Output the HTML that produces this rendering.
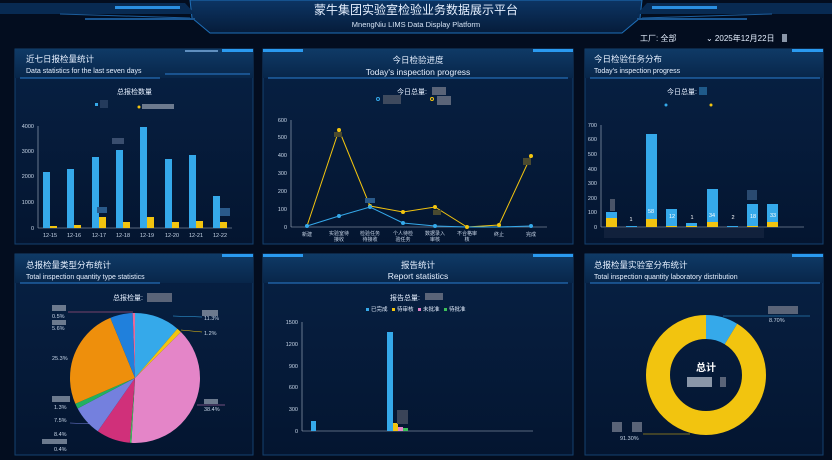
<!DOCTYPE html>
<html><head><meta charset="utf-8"><style>
html,body{margin:0;padding:0;background:#030d1f;}
svg{display:block;font-family:"Liberation Sans","Noto Sans CJK SC",sans-serif;}
</style></head><body>
<svg width="832" height="460" viewBox="0 0 832 460" xmlns="http://www.w3.org/2000/svg">
<defs>
<linearGradient id="hd" x1="0" y1="0" x2="0" y2="1"><stop offset="0" stop-color="#0f3a66"/><stop offset="1" stop-color="#08264a"/></linearGradient>
<linearGradient id="pn" x1="0" y1="0" x2="0" y2="1"><stop offset="0" stop-color="#072144"/><stop offset="1" stop-color="#041530"/></linearGradient>
<linearGradient id="tp" x1="0" y1="0" x2="0" y2="1"><stop offset="0" stop-color="#0c3564"/><stop offset="1" stop-color="#061c3a"/></linearGradient>
</defs>
<rect width="832" height="460" fill="#030d1f"/>
<!-- header -->
<polygon points="190,0 642,0 640,18 622,33 210,33 192,18" fill="url(#tp)" stroke="#1e6fb8" stroke-width="1"/>
<polygon points="0,3 185,3 195,14 0,14" fill="#082a52"/>
<polygon points="832,3 647,3 637,14 832,14" fill="#082a52"/>
<rect x="115" y="6" width="65" height="3" fill="#2a8ee0"/>
<rect x="652" y="6" width="65" height="3" fill="#2a8ee0"/>
<line x1="60" y1="14" x2="190" y2="18" stroke="#1c5d9c"/>
<line x1="642" y1="18" x2="772" y2="14" stroke="#1c5d9c"/>
<rect x="85" y="18" width="110" height="2" fill="#1a5590"/>
<rect x="637" y="18" width="110" height="2" fill="#1a5590"/>
<text x="416" y="14" fill="#e6f0ff" font-size="12" text-anchor="middle">蒙牛集团实验室检验业务数据展示平台</text>
<text x="416" y="27" fill="#d6e4f5" font-size="7.5" text-anchor="middle">MnengNiu LIMS Data Display Platform</text>
<text x="640" y="41" fill="#e6f0ff" font-size="8">工厂: 全部</text>
<text x="706" y="41" fill="#e6f0ff" font-size="8">⌄ 2025年12月22日</text>
<rect x="782" y="34" width="5" height="8" fill="#8a96a8"/>

<!-- panel function: drawn manually -->
<!-- Panel TL -->
<g>
<rect x="15" y="49" width="238" height="195" fill="url(#pn)" stroke="#14416f"/>
<rect x="15" y="49" width="238" height="29" fill="url(#hd)"/>
<rect x="222" y="49" width="31" height="3" fill="#2a9af0"/>
<rect x="185" y="50" width="33" height="2" fill="#5f8fbf"/>
<line x1="20" y1="78" x2="160" y2="78" stroke="#2a7dd0"/>
<line x1="165" y1="74" x2="250" y2="74" stroke="#2a7dd0"/>
<text x="26" y="62" fill="#e6f0ff" font-size="8.5">近七日报检量统计</text>
<text x="26" y="73" fill="#e6f0ff" font-size="7">Data statistics for the last seven days</text>
<text x="117" y="94" fill="#e6f0ff" font-size="7">总报检数量</text>
<rect x="95" y="103" width="3" height="3" fill="#35a9ea"/><rect x="100" y="100" width="8" height="8" fill="#243b5c"/>
<circle cx="139" cy="107" r="1.5" fill="#f2c40f"/><rect x="142" y="104" width="32" height="5" fill="#6c7a8e"/>
</g>
<!-- Panel TM -->
<g>
<rect x="263" y="49" width="310" height="195" fill="url(#pn)" stroke="#14416f"/>
<rect x="263" y="49" width="310" height="29" fill="url(#hd)"/>
<rect x="263" y="49" width="40" height="3" fill="#2a9af0"/><rect x="533" y="49" width="40" height="3" fill="#2a9af0"/>
<line x1="268" y1="78" x2="568" y2="78" stroke="#2a7dd0"/>
<text x="418" y="63" fill="#e6f0ff" font-size="8.5" text-anchor="middle">今日检验进度</text>
<text x="418" y="75" fill="#e6f0ff" font-size="8.5" text-anchor="middle">Today's inspection progress</text>
<text x="397" y="94" fill="#e6f0ff" font-size="7">今日总量:</text><rect x="432" y="87" width="14" height="8" fill="#5a6478"/>
<circle cx="378" cy="99" r="1.5" fill="none" stroke="#35a9ea"/><rect x="383" y="95" width="18" height="9" fill="#3e4a5e"/>
<circle cx="432" cy="99" r="1.5" fill="none" stroke="#f2c40f"/><rect x="437" y="96" width="14" height="9" fill="#5a6478"/>
</g>
<!-- Panel TR -->
<g>
<rect x="585" y="49" width="238" height="195" fill="url(#pn)" stroke="#14416f"/>
<rect x="585" y="49" width="238" height="29" fill="url(#hd)"/>
<rect x="792" y="49" width="31" height="3" fill="#2a9af0"/>
<line x1="590" y1="78" x2="820" y2="78" stroke="#2a7dd0"/>
<text x="594" y="62" fill="#e6f0ff" font-size="8.5">今日检验任务分布</text>
<text x="594" y="73" fill="#e6f0ff" font-size="7">Today's inspection progress</text>
<text x="667" y="94" fill="#e6f0ff" font-size="7">今日总量:</text><rect x="699" y="87" width="8" height="8" fill="#1f5a8a"/>
<circle cx="666" cy="105" r="1.5" fill="#35a9ea"/><circle cx="711" cy="105" r="1.5" fill="#f2c40f"/>
</g>
<!-- Panel BL -->
<g>
<rect x="15" y="254" width="238" height="201" fill="url(#pn)" stroke="#14416f"/>
<rect x="15" y="254" width="238" height="29" fill="url(#hd)"/>
<rect x="222" y="254" width="31" height="3" fill="#2a9af0"/>
<line x1="20" y1="283" x2="160" y2="283" stroke="#2a7dd0"/>
<text x="26" y="268" fill="#e6f0ff" font-size="8.5">总报检量类型分布统计</text>
<text x="26" y="279" fill="#e6f0ff" font-size="7">Total inspection quantity type statistics</text>
</g>
<!-- Panel BM -->
<g>
<rect x="263" y="254" width="310" height="201" fill="url(#pn)" stroke="#14416f"/>
<rect x="263" y="254" width="310" height="29" fill="url(#hd)"/>
<rect x="263" y="254" width="40" height="3" fill="#2a9af0"/><rect x="533" y="254" width="40" height="3" fill="#2a9af0"/>
<line x1="268" y1="283" x2="568" y2="283" stroke="#2a7dd0"/>
<text x="418" y="268" fill="#e6f0ff" font-size="8.5" text-anchor="middle">报告统计</text>
<text x="418" y="279" fill="#e6f0ff" font-size="8.5" text-anchor="middle">Report statistics</text>
<text x="390" y="300" fill="#e6f0ff" font-size="7">报告总量:</text><rect x="425" y="293" width="18" height="7" fill="#5a6478"/>
<g font-size="5.5" fill="#e6f0ff">
<rect x="366" y="308" width="3" height="3" fill="#35a9ea"/><text x="371" y="311">已完成</text>
<rect x="392" y="308" width="3" height="3" fill="#f2c40f"/><text x="397" y="311">待审核</text>
<rect x="418" y="308" width="3" height="3" fill="#e07ec5"/><text x="423" y="311">未批准</text>
<rect x="444" y="308" width="3" height="3" fill="#3cc05a"/><text x="449" y="311">待批准</text>
</g>
</g>
<!-- Panel BR -->
<g>
<rect x="585" y="254" width="238" height="201" fill="url(#pn)" stroke="#14416f"/>
<rect x="585" y="254" width="238" height="29" fill="url(#hd)"/>
<rect x="792" y="254" width="31" height="3" fill="#2a9af0"/>
<line x1="590" y1="283" x2="820" y2="283" stroke="#2a7dd0"/>
<text x="594" y="268" fill="#e6f0ff" font-size="8.5">总报检量实验室分布统计</text>
<text x="594" y="279" fill="#e6f0ff" font-size="7">Total inspection quantity laboratory distribution</text>
</g>

<!-- TL chart -->
<g font-size="5.5" fill="#c8d6e8">
<line x1="38" y1="126" x2="38" y2="228" stroke="#aab8c8" stroke-width="0.6"/>
<line x1="38" y1="228" x2="232" y2="228" stroke="#aab8c8" stroke-width="0.6"/>
<text x="34" y="230" text-anchor="end">0</text>
<text x="34" y="204" text-anchor="end">1000</text>
<text x="34" y="178" text-anchor="end">2000</text>
<text x="34" y="153" text-anchor="end">3000</text>
<text x="34" y="128" text-anchor="end">4000</text>
</g>
<g fill="#35a9ea">
<rect x="43" y="172" width="7" height="56"/>
<rect x="67" y="169" width="7" height="59"/>
<rect x="92" y="157" width="7" height="71"/>
<rect x="116" y="150" width="7" height="78"/>
<rect x="140" y="127" width="7" height="101"/>
<rect x="165" y="159" width="7" height="69"/>
<rect x="189" y="155" width="7" height="73"/>
<rect x="213" y="196" width="7" height="32"/>
</g>
<g fill="#f2c40f">
<rect x="50" y="226" width="7" height="2"/>
<rect x="74" y="225" width="7" height="3"/>
<rect x="99" y="217" width="7" height="11"/>
<rect x="123" y="222" width="7" height="6"/>
<rect x="147" y="217" width="7" height="11"/>
<rect x="172" y="222" width="7" height="6"/>
<rect x="196" y="221" width="7" height="7"/>
<rect x="220" y="222" width="7" height="6"/>
</g>
<g font-size="5.5" fill="#c8d6e8" text-anchor="middle">
<text x="50" y="237">12-15</text><text x="74" y="237">12-16</text><text x="99" y="237">12-17</text><text x="123" y="237">12-18</text>
<text x="147" y="237">12-19</text><text x="172" y="237">12-20</text><text x="196" y="237">12-21</text><text x="220" y="237">12-22</text>
</g>
<rect x="112" y="138" width="12" height="6" fill="#3a4e6e"/><rect x="220" y="208" width="10" height="8" fill="#2a5a8a"/><rect x="97" y="207" width="10" height="6" fill="#2a5a8a"/>

<!-- TM chart -->
<g font-size="5.5" fill="#c8d6e8">
<line x1="291" y1="120" x2="291" y2="227" stroke="#aab8c8" stroke-width="0.6"/>
<line x1="291" y1="227" x2="547" y2="227" stroke="#aab8c8" stroke-width="0.6"/>
<text x="287" y="229" text-anchor="end">0</text><text x="287" y="211" text-anchor="end">100</text>
<text x="287" y="193" text-anchor="end">200</text><text x="287" y="175" text-anchor="end">300</text>
<text x="287" y="157" text-anchor="end">400</text><text x="287" y="139" text-anchor="end">500</text>
<text x="287" y="122" text-anchor="end">600</text>
</g>
<polyline points="307,226 339,130 370,206 403,212 435,207 467,227 499,225 531,156" fill="none" stroke="#f2c40f" stroke-width="1"/>
<polyline points="307,226 339,216 370,207 403,223 435,226 467,227 499,227 531,226" fill="none" stroke="#35a9ea" stroke-width="1"/>
<g fill="#f2c40f"><circle cx="339" cy="130" r="2"/><circle cx="370" cy="206" r="2"/><circle cx="403" cy="212" r="2"/><circle cx="435" cy="207" r="2"/><circle cx="467" cy="227" r="2"/><circle cx="499" cy="225" r="2"/><circle cx="531" cy="156" r="2"/></g>
<g fill="#35a9ea"><circle cx="307" cy="226" r="2"/><circle cx="339" cy="216" r="2"/><circle cx="370" cy="207" r="2"/><circle cx="403" cy="223" r="2"/><circle cx="435" cy="226" r="2"/><circle cx="531" cy="226" r="2"/></g>
<rect x="334" y="132" width="8" height="5" fill="#4a4a30"/><rect x="365" y="198" width="10" height="5" fill="#2a5a8a"/><rect x="523" y="158" width="8" height="7" fill="#4a4a30"/><rect x="433" y="210" width="8" height="5" fill="#4a4a30"/>
<g font-size="5" fill="#c8d6e8" text-anchor="middle">
<text x="307" y="236">新建</text><text x="339" y="235">实验室待</text><text x="339" y="241">接收</text>
<text x="370" y="235">检验任务</text><text x="370" y="241">待接收</text><text x="403" y="235">个人待检</text><text x="403" y="241">验任务</text>
<text x="435" y="235">数据录入</text><text x="435" y="241">审核</text><text x="467" y="235">不合格审</text><text x="467" y="241">核</text>
<text x="499" y="236">终止</text><text x="531" y="236">完成</text>
</g>

<!-- TR chart -->
<g font-size="5.5" fill="#c8d6e8">
<line x1="601" y1="125" x2="601" y2="227" stroke="#aab8c8" stroke-width="0.6"/>
<line x1="601" y1="227" x2="804" y2="227" stroke="#aab8c8" stroke-width="0.6"/>
<text x="597" y="229" text-anchor="end">0</text><text x="597" y="214" text-anchor="end">100</text>
<text x="597" y="200" text-anchor="end">200</text><text x="597" y="185" text-anchor="end">300</text>
<text x="597" y="171" text-anchor="end">400</text><text x="597" y="156" text-anchor="end">500</text>
<text x="597" y="141" text-anchor="end">600</text><text x="597" y="127" text-anchor="end">700</text>
</g>
<g fill="#35a9ea">
<rect x="606" y="212" width="11" height="15"/><rect x="626" y="226" width="11" height="1"/>
<rect x="646" y="134" width="11" height="93"/><rect x="666" y="209" width="11" height="18"/>
<rect x="686" y="223" width="11" height="4"/><rect x="707" y="189" width="11" height="38"/>
<rect x="727" y="226" width="11" height="1"/><rect x="747" y="204" width="11" height="23"/>
<rect x="767" y="204" width="11" height="23"/>
</g>
<g fill="#f2c40f">
<rect x="606" y="218" width="11" height="9"/><rect x="646" y="219" width="11" height="8"/>
<rect x="666" y="226" width="11" height="1"/><rect x="686" y="226" width="11" height="1"/>
<rect x="707" y="222" width="11" height="5"/><rect x="747" y="226" width="11" height="1"/>
<rect x="767" y="222" width="11" height="5"/>
</g>
<g font-size="5.5" fill="#fff" text-anchor="middle">
<text x="651" y="213">58</text><text x="672" y="218">12</text><text x="712" y="217">34</text><text x="753" y="218">18</text><text x="773" y="217">33</text>
<text x="631" y="221">1</text><text x="692" y="219">1</text><text x="733" y="219">2</text>
</g>
<rect x="610" y="199" width="5" height="12" fill="#4a5468"/><rect x="747" y="190" width="10" height="10" fill="#2a4a70"/>
<rect x="604" y="228" width="160" height="10" fill="#1a2a44" opacity="0.6"/>

<!-- BL pie -->
<text x="113" y="300" fill="#e6f0ff" font-size="7">总报检量:</text><rect x="147" y="293" width="25" height="9" fill="#5a6478"/>
<g transform="rotate(-90 135 378)" fill="none" stroke-width="65">
<circle cx="135" cy="378" r="32.5" pathLength="100" stroke="#35a9ea" stroke-dasharray="11.3 100" stroke-dashoffset="0"/>
<circle cx="135" cy="378" r="32.5" pathLength="100" stroke="#f2c40f" stroke-dasharray="1.2 100" stroke-dashoffset="-11.3"/>
<circle cx="135" cy="378" r="32.5" pathLength="100" stroke="#e485c8" stroke-dasharray="38.4 100" stroke-dashoffset="-12.5"/>
<circle cx="135" cy="378" r="32.5" pathLength="100" stroke="#3cc05a" stroke-dasharray="0.4 100" stroke-dashoffset="-50.9"/>
<circle cx="135" cy="378" r="32.5" pathLength="100" stroke="#d0307a" stroke-dasharray="8.4 100" stroke-dashoffset="-51.3"/>
<circle cx="135" cy="378" r="32.5" pathLength="100" stroke="#7480de" stroke-dasharray="7.5 100" stroke-dashoffset="-59.7"/>
<circle cx="135" cy="378" r="32.5" pathLength="100" stroke="#22b060" stroke-dasharray="1.3 100" stroke-dashoffset="-67.2"/>
<circle cx="135" cy="378" r="32.5" pathLength="100" stroke="#ee8f0c" stroke-dasharray="25.3 100" stroke-dashoffset="-68.5"/>
<circle cx="135" cy="378" r="32.5" pathLength="100" stroke="#2080dc" stroke-dasharray="5.6 100" stroke-dashoffset="-93.8"/>
<circle cx="135" cy="378" r="32.5" pathLength="100" stroke="#e86a9a" stroke-dasharray="0.6 100" stroke-dashoffset="-99.4"/>
</g>
<g font-size="5.5" fill="#c8d6e8">
<text x="52" y="318">0.5%</text><text x="52" y="330">5.6%</text><text x="52" y="360">25.3%</text>
<text x="54" y="409">1.3%</text><text x="54" y="422">7.5%</text><text x="54" y="436">8.4%</text><text x="54" y="451">0.4%</text>
<text x="204" y="320">11.3%</text><text x="204" y="335">1.2%</text><text x="204" y="411">38.4%</text>
</g>
<g fill="#6c7a8e"><rect x="52" y="305" width="14" height="6"/><rect x="52" y="320" width="14" height="5"/><rect x="52" y="396" width="18" height="6"/><rect x="42" y="439" width="25" height="5"/><rect x="202" y="310" width="16" height="6"/><rect x="204" y="399" width="14" height="5"/></g>
<g fill="none" stroke-width="0.6"><polyline points="68,312 133,312" stroke="#e86a9a"/><polyline points="173,316 202,317" stroke="#35a9ea"/><polyline points="181,330 202,332" stroke="#f2c40f"/><polyline points="197,405 225,405" stroke="#e485c8"/><polyline points="70,423 95,424" stroke="#7480de"/></g>

<!-- BM chart -->
<g font-size="5.5" fill="#c8d6e8">
<line x1="302" y1="322" x2="302" y2="431" stroke="#aab8c8" stroke-width="0.6"/>
<line x1="302" y1="431" x2="533" y2="431" stroke="#aab8c8" stroke-width="0.6"/>
<text x="298" y="433" text-anchor="end">0</text><text x="298" y="411" text-anchor="end">300</text>
<text x="298" y="389" text-anchor="end">600</text><text x="298" y="368" text-anchor="end">900</text>
<text x="298" y="346" text-anchor="end">1200</text><text x="298" y="324" text-anchor="end">1500</text>
</g>
<rect x="311" y="421" width="5" height="10" fill="#35a9ea"/>
<rect x="387" y="332" width="6" height="99" fill="#35a9ea"/>
<rect x="393" y="423" width="5" height="8" fill="#f2c40f"/>
<rect x="398" y="427" width="5" height="4" fill="#e485c8"/>
<rect x="403" y="428" width="5" height="3" fill="#3cc05a"/>
<rect x="397" y="410" width="11" height="14" fill="#3a4458"/>

<!-- BR donut -->
<g transform="rotate(-90 706 375)" fill="none" stroke-width="24">
<circle cx="706" cy="375" r="48" pathLength="100" stroke="#35a9ea" stroke-dasharray="8.7 100"/>
<circle cx="706" cy="375" r="48" pathLength="100" stroke="#f2c40f" stroke-dasharray="91.3 100" stroke-dashoffset="-8.7"/>
</g>
<text x="706" y="371" fill="#fff" font-size="10" font-weight="bold" text-anchor="middle">总计</text>
<rect x="687" y="377" width="25" height="10" fill="#8a96a8"/><rect x="720" y="377" width="6" height="10" fill="#5a6478"/>
<line x1="723" y1="316" x2="810" y2="316" stroke="#35a9ea" stroke-width="0.6"/>
<rect x="768" y="306" width="30" height="8" fill="#5a6478"/>
<text x="769" y="322" fill="#c8d6e8" font-size="5.5">8.70%</text>
<line x1="643" y1="434" x2="690" y2="434" stroke="#f2c40f" stroke-width="0.6"/>
<rect x="612" y="422" width="10" height="10" fill="#5a6478"/><rect x="632" y="422" width="10" height="10" fill="#5a6478"/>
<text x="620" y="440" fill="#c8d6e8" font-size="5.5">91.30%</text>
</svg>
</body></html>
